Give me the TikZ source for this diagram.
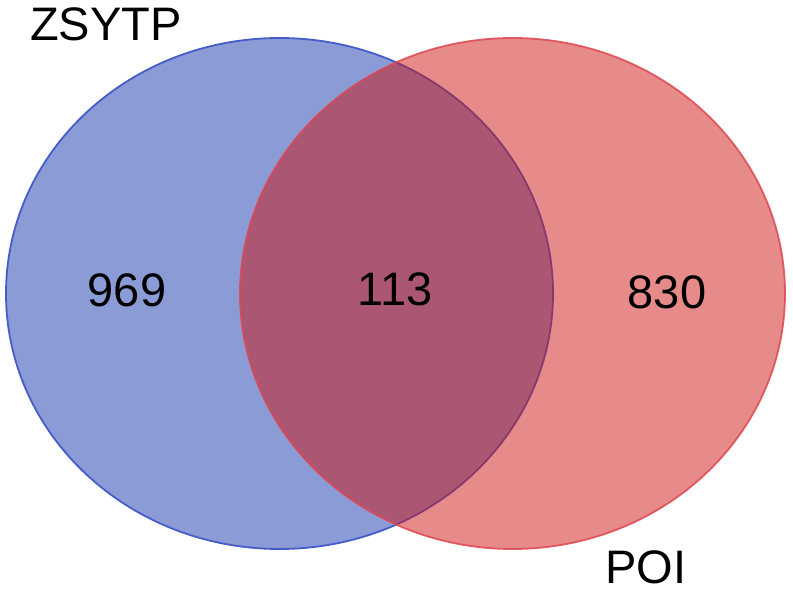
\documentclass[tikz,border=0pt]{standalone}
\usepackage{fontspec}
\setmainfont{Liberation Sans}
\begin{document}
\begin{tikzpicture}[x=1pt,y=-1pt,
  lbl/.style={font=\fontsize{47}{50}\selectfont, text=black, inner sep=0pt}]
\useasboundingbox (0,0) rectangle (793,594);
\definecolor{bluebase}{RGB}{21,55,173}
\definecolor{redbase}{RGB}{205,21,21}
\definecolor{bluedge}{RGB}{70,92,200}
\definecolor{rededge}{RGB}{222,70,80}
\fill[bluebase, opacity=0.5] (279.5,293.5) ellipse [x radius=273.5, y radius=255.5];
\draw[bluedge, line width=1.8pt] (279.5,293.5) ellipse [x radius=273.5, y radius=255.5];
\fill[redbase, opacity=0.5] (512.5,293.5) ellipse [x radius=272.5, y radius=255.5];
\draw[rededge, line width=1.8pt, opacity=0.85] (512.5,293.5) ellipse [x radius=272.5, y radius=255.5];
\node[lbl] (zs) at (106,24) {ZSYTP};
\node[lbl] (poi) at (646,567) {POI};
\node[lbl] (a) at (127,290) {969};
\node[lbl] (ab) at (395,289) {113};
\node[lbl] (b) at (667,292) {830};
\end{tikzpicture}
\end{document}
